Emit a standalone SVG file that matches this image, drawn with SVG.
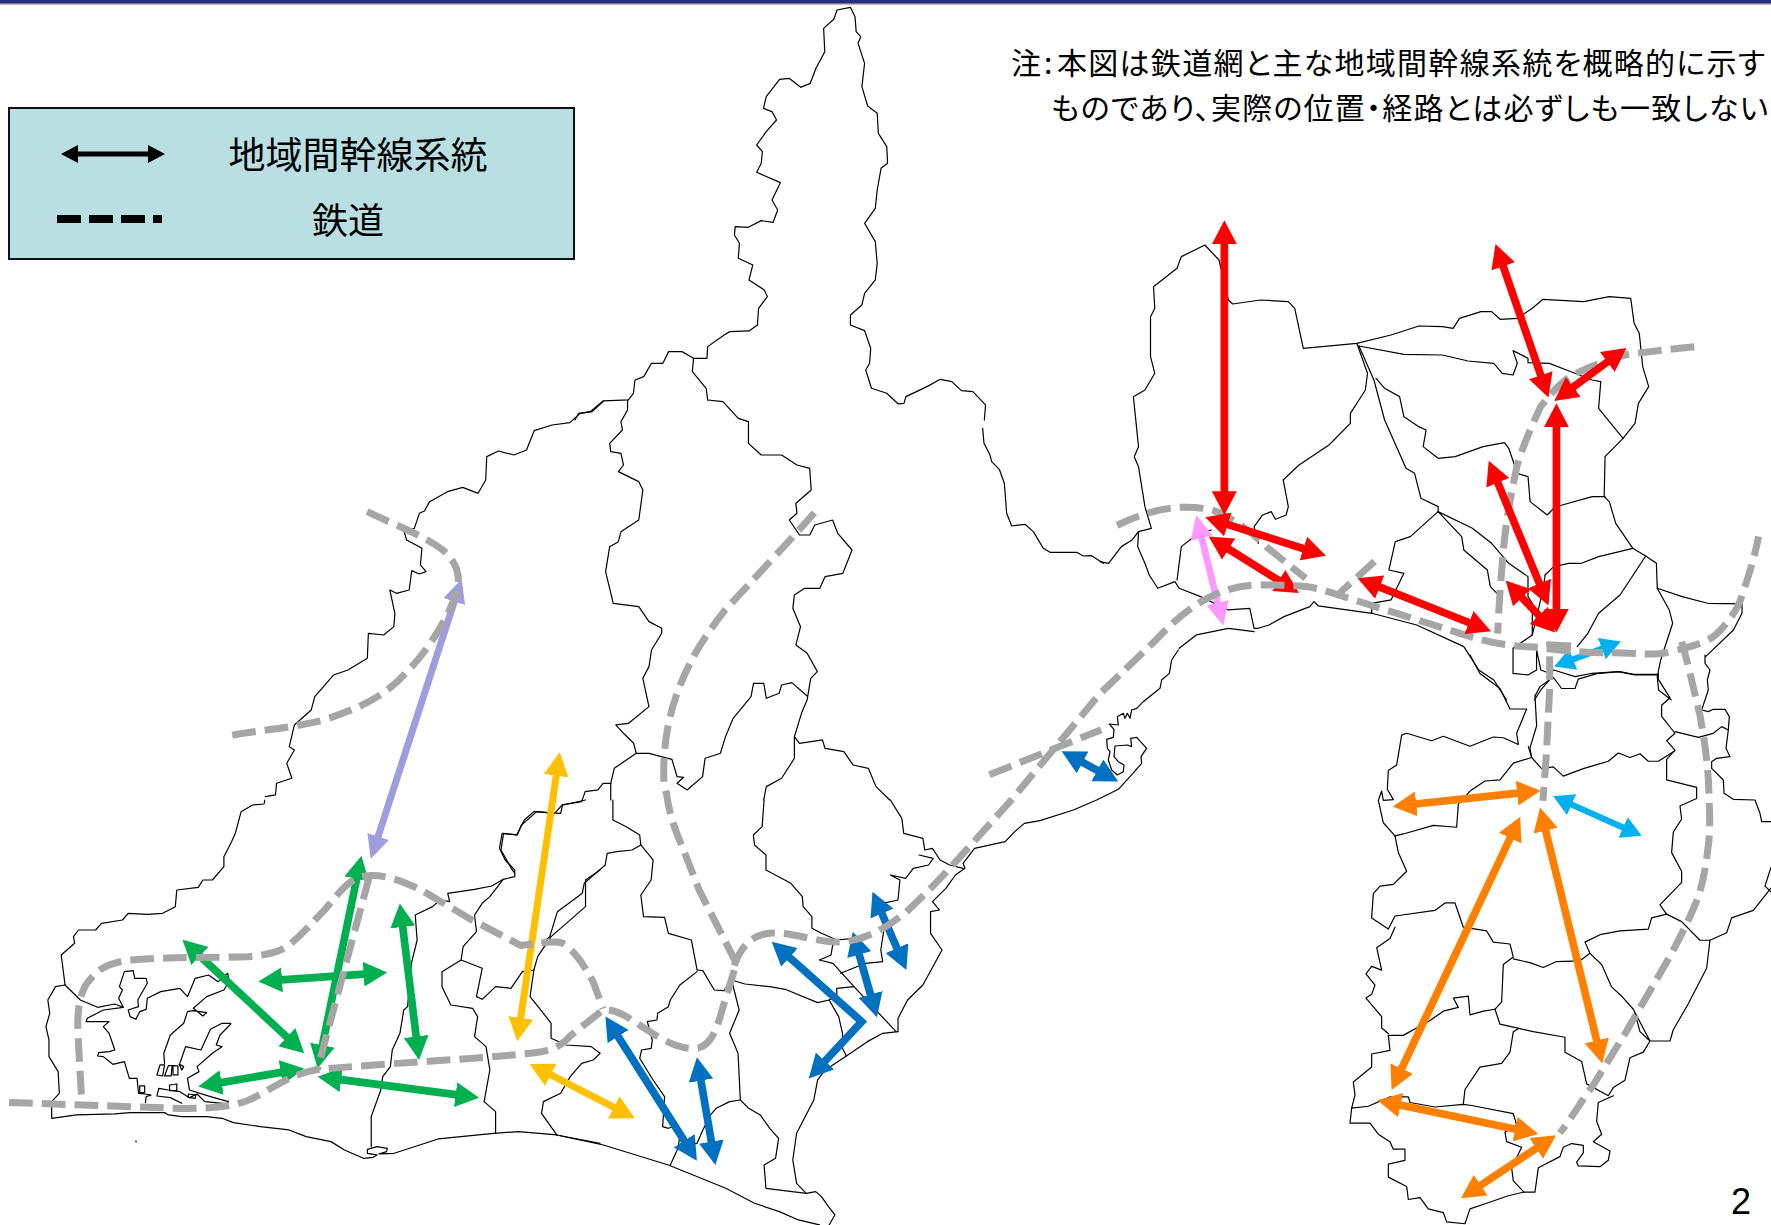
<svg xmlns="http://www.w3.org/2000/svg" width="1771" height="1225" viewBox="0 0 1771 1225">
<style>
.b{fill:none;stroke:#000;stroke-width:1.2;vector-effect:non-scaling-stroke;stroke-linejoin:round;stroke-linecap:round}
.r{fill:none;stroke:#A6A6A6;stroke-width:6.2;stroke-dasharray:21 8}
.a{fill:none;stroke-width:6.8;stroke-linejoin:miter}
.t{font-family:"Noto Sans CJK JP","Liberation Sans",sans-serif;fill:#000}
.n{font-feature-settings:"palt"}
</style>
<defs>
<marker id="mR" viewBox="0 -11 21 22" markerWidth="21" markerHeight="22" refX="7" refY="0" markerUnits="userSpaceOnUse" orient="auto-start-reverse"><path d="M0-11 21 0 0 11Z" fill="#F00"/></marker>
<marker id="mG" viewBox="0 -11 21 22" markerWidth="21" markerHeight="22" refX="7" refY="0" markerUnits="userSpaceOnUse" orient="auto-start-reverse"><path d="M0-11 21 0 0 11Z" fill="#00B050"/></marker>
<marker id="mB" viewBox="0 -11 21 22" markerWidth="21" markerHeight="22" refX="7" refY="0" markerUnits="userSpaceOnUse" orient="auto-start-reverse"><path d="M0-11 21 0 0 11Z" fill="#0070C0"/></marker>
<marker id="mY" viewBox="0 -11 21 22" markerWidth="21" markerHeight="22" refX="7" refY="0" markerUnits="userSpaceOnUse" orient="auto-start-reverse"><path d="M0-11 21 0 0 11Z" fill="#FFC000"/></marker>
<marker id="mO" viewBox="0 -11 21 22" markerWidth="21" markerHeight="22" refX="7" refY="0" markerUnits="userSpaceOnUse" orient="auto-start-reverse"><path d="M0-11 21 0 0 11Z" fill="#FF8000"/></marker>
<marker id="mC" viewBox="0 -10 18 20" markerWidth="18" markerHeight="20" refX="4" refY="0" markerUnits="userSpaceOnUse" orient="auto-start-reverse"><path d="M0-10 18 0 0 10Z" fill="#00B0F0"/></marker>
<marker id="mP" viewBox="0 -10 21 20" markerWidth="21" markerHeight="20" refX="7" refY="0" markerUnits="userSpaceOnUse" orient="auto-start-reverse"><path d="M0-10 21 0 0 10Z" fill="#9E9EDE"/></marker>
<marker id="mK" viewBox="0 -10 21 20" markerWidth="21" markerHeight="20" refX="7" refY="0" markerUnits="userSpaceOnUse" orient="auto-start-reverse"><path d="M0-10 21 0 0 10Z" fill="#FF99FF"/></marker>
<marker id="mL" viewBox="0 -9 17 18" markerWidth="17" markerHeight="18" refX="5" refY="0" markerUnits="userSpaceOnUse" orient="auto-start-reverse"><path d="M0-9 17 0 0 9Z" fill="#000"/></marker>
</defs>
<rect width="1771" height="1225" fill="#fff"/>
<g id="topband"><rect width="1771" height="3.4" fill="#2A2A80"/><rect y="3.4" width="1771" height="1" fill="#555"/></g>
<g id="map">
<g transform="translate(550,0) scale(.3827,.3333)">
<path class="b" d="M375,1075 410,1075 412,1040 455,1005 470,995 520,993 542,975 545,925 568,890 560,870 520,840 530,795 492,775 495,730 482,705 484,680 518,682 552,662 583,667 595,630 580,600 602,548 540,517 552,490 555,455 540,435 565,395 592,360 580,335 558,325 565,290 600,238 625,235 655,262 680,250 695,205 718,155 715,85 742,57 750,30 785,22 797,50 800,95 812,110 805,130 822,190 815,260 830,318 855,340 858,400 880,440 882,490 865,505 855,570 850,625 822,670 850,725 855,790 850,840 822,880 815,915 785,945 785,975 822,992 838,1045 835,1090 825,1110 840,1165 880,1180 910,1212 925,1210 930,1190 985,1160 1020,1138 1050,1145 1075,1172 1105,1175 1138,1215 1135,1260"/>
<path class="b" d="M375,1075 345,1055 310,1055 295,1090 265,1090 245,1130 222,1140 218,1180 205,1200 140,1203 110,1235 75,1240 65,1260"/>
<path class="b" d="M375,1075 372,1115 408,1165 412,1200"/>
</g>
<g transform="translate(960,380) scale(.3333)">
<path class="b" d="M68,145 72,190 90,225 95,245 118,268 133,310 140,400 155,438 195,433 220,455 250,505 270,517 350,517 370,528 395,527 430,550"/>
</g>
<g transform="translate(200,400) scale(.5102,.3333)">
<path class="b" d="M790,3 765,35 745,40 725,68 690,75 655,92 640,150 615,165 585,153 562,170 560,240 545,280 515,262 485,275 450,305 440,333 430,340 420,385 400,395 405,420 435,445 432,495 443,515 430,522 415,512 410,570 385,580 372,570 382,640 380,680 360,705 330,700 328,775 290,810 262,825 225,890 218,930 185,975 175,1040 185,1050 170,1090 180,1135 150,1150 148,1185 128,1190"/>
<path class="b" d="M838,0 838,30 825,65 828,90 803,130 805,155 825,160 830,195 820,215 860,245 868,270 860,360 825,395 820,425 803,440 795,515 810,610 860,620 880,665 905,685 905,700 885,750 880,800 868,835 880,920 840,970 815,975 830,1000 850,1030 855,1060 880,1060 925,1078 935,1130 948,1132 935,1150 955,1170 985,1130 990,1075 1020,1060 1030,1010 1045,955 1080,890 1085,850 1105,850 1110,895 1135,880 1140,855 1160,848 1190,888"/>
<path class="b" d="M855,1060 812,1105 805,1150 790,1150 780,1170 755,1175 748,1205 710,1215 695,1240 660,1235 630,1275 622,1305 595,1300 590,1350 610,1405 617,1420"/>
<path class="b" d="M805,1150 805,1200"/>
<path class="b" d="M995,0 1025,5 1055,55 1075,65 1075,130 1100,165 1140,165 1170,195 1195,205 1198,270 1168,310 1170,340 1155,360 1175,405 1195,405 1205,375 1240,360 1250,400 1278,450 1260,520 1225,530 1215,565 1185,565 1165,585 1162,625 1177,680 1168,735 1190,760 1210,815 1197,835 1190,900 1180,935 1165,1010 1175,1030 1220,1020 1225,1045 1262,1055 1280,1095 1310,1105 1325,1160 1352,1200"/>
<path class="b" d="M1165,1010 1165,1075 1140,1135 1110,1160 1105,1200"/>
</g>
<g transform="translate(0,800) scale(.3827,.3333)">
<path class="b" d="M692,0 690,12 660,15 630,35 615,100 605,125 585,170 585,200 555,240 530,240 518,262 462,270 458,320 425,340 385,343 335,340 320,360 265,370 250,390 205,390 192,410 195,430 160,465 170,555 145,560 125,600 130,640 120,680 128,720 128,770 152,815 155,880 135,905 135,955 200,945 300,942 340,938 430,938 440,945 475,950 540,950 580,955 610,968 680,980 755,990 800,1010 865,1025 900,1050 950,1075 975,1072 985,1065 960,1060 960,1048 985,1040 1012,1045 1010,1055 990,1062 1030,1060 1145,1017 1290,1000 1355,995 1455,1005 1568,1030"/>
<path class="b" d="M170,555 210,600 255,622 300,612 322,622 310,595 320,570 312,560 325,515 348,512 352,535 382,535 385,550 360,600 362,620 335,630 340,650 355,658 365,635 382,628 385,595 420,575 470,565 490,590 510,535 545,525 570,545 595,520 598,545 585,570 540,590 505,625 530,648 540,638 505,632 490,635 480,670 445,705 428,760 430,790"/>
<path class="b" d="M322,622 270,630 228,655 225,665 270,665 285,665 270,680 285,700 300,750 285,755 258,758 255,768 270,770 295,793 325,785 338,835 358,835 362,880 378,882 395,885 382,890 380,908"/>
<path class="b" d="M603,670 580,670 550,688 525,750 485,740 470,790 M603,672 575,705 565,735 580,740 555,760 515,800 520,815 490,835 495,870 550,890 597,905 595,912 535,905 515,882 495,893 470,875 440,870 415,865 410,888 445,893 475,910"/>
<path class="b" d="M410,825 418,795 430,795 425,828ZM430,828 440,797 450,797 447,828ZM452,825 452,797 465,798 465,825ZM468,792 480,800 475,810ZM365,858 378,858 378,878 365,878ZM443,855 462,852 462,872 443,872ZM492,882 512,885 510,895 492,892Z"/>
<path class="b" d="M355,1023 356,1026"/>
<path class="b" d="M1150,300 1130,320 1085,345 1090,420 1075,490 1065,620 1055,630 1045,700 1025,750 1020,800 1000,830 995,870 970,950 970,1040"/>
<path class="b" d="M1150,300 1175,305 1170,280 1240,268 1285,258 1315,238 1345,230 1345,210 1320,180 1305,145 1312,100 1350,105 1370,60 1395,35 1465,40 1470,15 1530,0"/>
<path class="b" d="M1315,238 1280,290 1260,310 1240,345 1245,395 1210,440 1205,480 1155,515 1155,560 1178,615 1235,625 1248,650 1240,710 1270,740 1280,810 1265,905 1295,935 1295,1000"/>
<path class="b" d="M1205,480 1260,505 1245,590 1260,598 1295,560 1335,565 1365,515 1395,510 1405,470 1440,410 1530,320 1530,240 1568,210"/>
<path class="b" d="M1395,510 1385,590 1420,640 1440,670 1440,715 1480,735 1545,740 1568,760 1550,780 1520,790 1490,830 1465,880 1420,905 1415,940 1455,1005"/>
</g>
<g transform="translate(500,800) scale(.3827,.3333)">
<path class="b" d="M295,0 295,60 330,80 365,105 368,135 400,180 395,240 368,285 375,350 430,352 440,400 500,420 515,510"/>
<path class="b" d="M368,135 345,150 305,155 280,160 275,195 240,230 220,250 215,280 150,335 130,410 110,430"/>
<path class="b" d="M515,510 530,512 560,570 585,572 605,540 625,630 600,700 622,760 628,900 600,905 565,925 550,945 530,990 515,1030 465,1040"/>
<path class="b" d="M515,515 470,555 445,600 440,620 412,640 410,660 385,665 398,720 395,745 370,750 365,775 400,840 430,890 425,980 440,985 465,975 470,1010 465,1045 445,1095"/>
<path class="b" d="M628,900 650,925 680,945 705,985 728,1015 720,1075 690,1095 695,1165 800,1180 825,1175 840,1190 855,1215 875,1245 860,1275"/>
<path class="b" d="M148,1005 270,1035 440,1095 590,1165 665,1210 730,1235 780,1260 835,1275"/>
<path class="b" d="M605,540 640,552 705,560 745,568 830,608 860,600 885,650 895,700 895,745 905,768"/>
<path class="b" d="M860,600 880,590 880,565 925,560 M835,480 870,490 925,560 1035,695"/>
<path class="b" d="M835,480 865,465 870,430 880,420"/>
<path class="b" d="M1040,695 1000,700 960,725 905,768 850,810 830,840 820,900 775,1000 765,1080 775,1150 800,1180"/>
<path class="b" d="M1040,695 1040,655 1065,600 1105,555 1155,450 1125,400 1125,335 1148,330 1130,305 1165,265 1190,225 1215,205 1210,190 1240,145 1320,125 1345,95 1370,70 1411,62"/>
<path class="b" d="M690,0 685,80 662,105 665,135 695,165 695,210 760,250 790,290 792,320 815,350 815,385 840,400 880,420 925,415"/>
<path class="b" d="M1020,0 1050,55 1055,100 1105,115 1110,150 1130,145 1150,180 1175,195 1210,205"/>
<path class="b" d="M1095,165 1132,175 1120,195 1080,205 1060,235 1020,225 1045,240 1040,300 1000,310 1005,375 995,450 1000,485 955,490 890,520"/>
</g>
<g transform="translate(1040,650) scale(.3333)">
<path class="b" d="M415,0 395,30 388,70 365,90 360,115 310,155 290,175 275,180 270,205 262,190 255,205 250,190 232,200 235,225 208,222 222,238 220,262 200,268 202,295 210,305 205,330 215,360 232,375 250,365 252,345 235,335 222,320 225,288 262,285 275,290 272,265 290,262 320,295 303,320 305,340 270,380 235,418 170,450 100,480 0,512"/>
</g>
<g transform="translate(1100,200) scale(.428,.3333)">
<path class="b" d="M0,1085 20,1090 50,1040 75,1020 90,995 120,985 105,920 90,800 80,770 90,740 78,590 105,570 128,520 118,470 118,350 128,325 125,260 180,205 190,170 245,135 278,180 300,300 310,312 375,300 440,305 455,325 475,445 600,430 680,405 745,378 800,380 825,385 840,355 890,335 915,335 935,358 975,355 1010,325 1035,298 1130,305 1190,290 1240,295 1248,370 1260,400 1268,500 1282,560 1258,610 1250,670 1222,715 1180,770 1178,890 1190,905 1205,970 1245,1045 1275,1068 1300,1090 1302,1165 1360,1190 1420,1210 1500,1212 1500,1240 1480,1290 1415,1370"/>
<path class="b" d="M1222,715 1165,625 1170,545 1150,540 1090,510 1050,490 1000,488 1000,475 965,452 975,490 965,525 940,520 920,490 860,483 800,465 710,463 605,438"/>
<path class="b" d="M600,430 625,520 620,570 585,640 585,670 535,735 465,795 428,840 440,920 435,945 410,958 400,935 380,945 360,980 370,1030"/>
<path class="b" d="M605,438 640,540 665,660 715,805 735,820 750,895 790,920 790,935"/>
<path class="b" d="M645,535 665,565 700,590 710,650 745,680 762,690 755,740 790,775 830,770 895,740 945,728 955,745 975,820 1000,830 1005,905 1045,945 1060,925 1080,915 1150,890 1180,890"/>
<path class="b" d="M790,935 725,1010 690,1025 675,1110 710,1120 680,1200 635,1210 635,1240"/>
<path class="b" d="M790,935 845,1010 850,1050 905,1110 912,1160 935,1190"/>
<path class="b" d="M790,935 870,985 915,1030 955,1090 1000,1130 1000,1190 1010,1210 1010,1305"/>
<path class="b" d="M90,995 88,1040 105,1090 115,1125 135,1165 175,1145 185,1165 235,1190 300,1230 350,1225 360,1285 370,1285 395,1275 430,1250 490,1220 500,1205 510,1218 635,1240 740,1275 850,1340 885,1410 920,1440 950,1500"/>
<path class="b" d="M180,1140 190,1040 230,1000 260,990"/>
<path class="b" d="M360,1295 300,1285 225,1305 185,1345"/>
<path class="b" d="M1040,1125 1060,1100 1095,1090 1125,1090 1165,1070 1245,1045"/>
<path class="b" d="M1040,1125 1035,1170 1010,1305 965,1345 965,1420 1000,1425 1020,1410 1020,1350 1030,1410 1050,1420 1060,1410 1110,1430 1150,1420 1210,1415 1250,1425 1302,1425"/>
<path class="b" d="M1275,1068 1215,1185 1165,1240 1140,1300 1115,1340"/>
<path class="b" d="M1302,1165 1330,1230 1338,1270 1310,1380 1302,1430 1305,1470 1335,1500"/>
<path class="b" d="M1050,1440 1030,1470 1015,1500"/>
</g>
<g transform="translate(1600,620) scale(.3333)">
<path class="b" d="M315,105 315,130 330,150 322,180 325,210 305,270 325,275 340,268 375,268 388,290 385,330 378,385 390,410 350,415 335,425 335,445 370,480 372,520 400,538 465,540 480,580 485,605 513,605"/>
<path class="b" d="M225,335 295,352 340,340 365,320 385,330"/>
</g>
<g transform="translate(1300,640) scale(.3333,.373)">
<path class="b" d="M510,40 540,90 600,130 630,185 680,185 650,250 655,280 610,262 580,260 510,285 430,258 395,270 320,250 305,255 290,335 265,350 262,400 280,428 250,430 245,405 235,430 250,490 285,525 310,520 400,497 470,502 475,440 510,405 555,378 600,375 640,330 695,315 685,285"/>
<path class="b" d="M285,525 295,570 320,620 280,655 240,660 220,680 215,745 265,775 285,740 405,725 435,705 465,705 490,770 560,780 580,810 630,815 640,850 610,870 605,970 585,990 600,1030 650,1040 660,1042 700,1050 795,1065 795,1105 845,1130 860,1190 925,1222 940,1200 975,1180 990,1120 1030,1105 1050,1075 1000,990 965,955 935,930 905,870 870,840 855,810 900,790 960,780 1045,775 1055,745 1100,735 1080,710 1145,650 1145,620 1115,570 1120,515 1145,480 1140,445 1190,425 1190,395 1100,375 1100,320 1125,295 1100,270 1125,250 1085,205 1085,175 1110,155 1075,105 1075,90"/>
<path class="b" d="M1100,735 1145,755 1200,805 1230,805 1280,785 1295,745 1360,725 1413,665"/>
<path class="b" d="M1230,805 1220,880 1165,975 1120,1045 1110,1075 1080,1075 1050,1075 1020,1050 1005,1000"/>
<path class="b" d="M640,855 690,865 730,878 770,862 840,860 870,840"/>
<path class="b" d="M285,770 270,800 230,825 245,885 215,875 198,895 225,925 215,950 198,960 245,1010 245,1040 265,1055"/>
<path class="b" d="M265,1060 310,1060 390,1020 430,995 475,985 460,960 505,955 510,1005 550,995 585,990"/>
<path class="b" d="M265,1060 270,1100 215,1110 215,1145 160,1185 165,1220 155,1255 205,1250 270,1225 325,1225 330,1240 405,1252 490,1245 515,1248 640,1270 650,1300 615,1320 620,1345 665,1360 635,1415 640,1450 672,1480"/>
<path class="b" d="M490,1245 495,1205 540,1145 605,1135 630,1105 640,1050 655,1042"/>
<path class="b" d="M155,1255 150,1295 210,1295 235,1325 270,1345 280,1365 315,1365 315,1395 265,1405 265,1440 320,1465 325,1500 360,1495 385,1525 430,1535 440,1560 495,1565 510,1525 560,1510 625,1490 672,1480 705,1480 715,1415 780,1385 790,1360 815,1350 850,1355 850,1375 830,1400 835,1410 900,1412 925,1395 930,1370 880,1345 905,1325 890,1290 895,1240 940,1222"/>
<path class="b" d="M705,150 720,125 760,100 785,130 825,130 835,105 890,90 960,85 1000,92 1075,92"/>
<path class="b" d="M705,150 710,230 690,290 695,315 725,345 760,340 790,365 850,345 925,325 955,303 990,315 1020,305 1045,325 1075,325 1125,297"/>
<path class="b" d="M1413,610 1395,660 1413,675"/>
</g>
</g>
<g id="connectors" transform="scale(1.1295)">
<g id="arrows-under">
<g stroke="#00B050" class="a" marker-start="url(#mG)" marker-end="url(#mG)">
<path d="M171.8 841.6 259.1 923"/><path d="M242.7 868 328.9 862"/><path d="M317.2 771.3 284 932.2"/><path d="M355.7 813.7 369.3 924.6"/><path d="M189.3 959.6 255.5 948.3"/><path d="M295.1 955 410.3 970"/>
</g>
<g stroke="#0070C0" class="a" marker-start="url(#mB)" marker-end="url(#mB)">
<path d="M543.5 911.8 609.5 1015.8"/><path d="M619.4 949.8 631 1017.6"/><path d="M693.7 843 762.9 904.5 725.6 944.5"/><path d="M758.8 838.5 772.6 887.2"/><path d="M778 802.4 796.9 845.9"/><path d="M952.3 671.7 977.7 685.3"/>
</g>
<g stroke="#FFC000" class="a" style="stroke-width:6.2" marker-start="url(#mY)" marker-end="url(#mY)">
<path d="M493.5 679.9 460 908.1"/><path d="M481.4 948.4 549.6 983.6"/>
</g>
<g stroke="#9E9EDE" class="a" style="stroke-width:6.2" marker-start="url(#mP)" marker-end="url(#mP)"><path d="M404.4 525.9 332.6 747.2"/></g>
<g stroke="#FF99FF" class="a" style="stroke-width:6" marker-start="url(#mK)" marker-end="url(#mK)"><path d="M1062.3 469.6 1079.7 540.4"/></g>
<g stroke="#00B0F0" class="a" style="stroke-width:5.5" marker-start="url(#mC)" marker-end="url(#mC)">
<path d="M1389.1 585.1 1421.9 572.9"/><path d="M1387.8 710.7 1440.7 734.3"/>
</g>
<g stroke="#FF8000" class="a" marker-start="url(#mO)" marker-end="url(#mO)">
<path d="M1246.9 712.5 1350.1 701.5"/><path d="M1340 735.7 1238 952.3"/><path d="M1366.8 728.6 1415.3 928"/><path d="M1233.2 976.9 1348.3 1001.1"/><path d="M1366 1012.8 1305.1 1053.2"/>
</g>
<path stroke="#F00" class="a" marker-start="url(#mR)" marker-end="url(#mR)" d="M1081.9 482.4 1138.1 517.6"/>
</g>
<g id="railways">
<path class="r" d="M325 453C350 465 375 474 392 487 403 496 408 508 405 522 398 545 380 575 360 595 340 618 315 628 285 638 255 645 225 647 199 652"/>
<path class="r" d="M8 976 150 981C175 982 205 981 220 974 240 965 258 950 281 947 330 942 420 938 474 932 490 930 498 925 505 917L534 894C550 893 565 908 578 915 590 923 605 930 618 928 630 925 635 910 639 895L652 853"/>
<path class="r" d="M650 855C655 840 665 826 685 826 705 826 725 835 745 834 770 832 790 818 805 805 825 786 840 770 856 752L893 711 974 614 1023 567C1045 543 1075 518 1114 518 1140 518 1155 518 1170 522L1303 564C1330 572 1345 572 1360 573 1390 577 1410 578 1429 578 1450 578 1465 581 1478 577 1500 572 1515 568 1523 558 1535 545 1540 535 1542 528 1548 510 1553 495 1557 475"/>
<path class="r" d="M72 969 69 915C68 890 72 875 80 867 88 856 100 852 115 850 150 847 190 848 220 847 240 845 250 842 258 835 270 825 278 815 288 805 300 790 310 778 320 776 340 772 360 782 373 788L417 814 461 837C475 836 490 832 498 835 510 842 520 860 525 869L534 893"/>
<path class="r" d="M327 776 281 947"/>
<path class="r" d="M721 454C700 478 665 515 642 540 625 562 617 575 611 587 597 615 590 640 588 670 587 690 588 700 590 702 593 725 600 740 605 752L619 788 652 853"/>
<path class="r" d="M989 465C1010 455 1030 449 1050 449 1060 449 1070 450 1080 454 1095 462 1110 472 1121 484L1156 512"/>
<path class="r" d="M1217 497 1186 525"/>
<path class="r" d="M1500 307C1470 310 1455 312 1440 314 1420 320 1405 325 1391 333 1380 340 1372 350 1364 360 1355 380 1348 395 1343 413 1337 440 1333 465 1331 487 1329 510 1327 535 1326 561"/>
<path class="r" d="M1391 572 1372 571 1372 610 1369 669 1366 709"/>
<path class="r" d="M1489 568C1495 590 1500 612 1505 633 1510 660 1513 685 1513 705 1514 725 1514 740 1512 752 1510 770 1507 785 1502 798 1495 815 1485 835 1476 851L1440 913 1411 960C1400 975 1390 992 1381 1003"/>
<path class="r" d="M876 686 975 646"/>
</g>
<g id="arrows-over" stroke="#F00" class="a" marker-start="url(#mR)" marker-end="url(#mR)">
<path d="M1084 209 1084 442"/><path d="M1328.6 229.2 1366.4 338.8"/><path d="M1428.7 316.3 1387.3 346.7"/><path d="M1378 371 1378 546"/><path d="M1323.4 420.9 1365.6 523.1"/><path d="M1342.7 524.1 1367.3 549.9"/><path d="M1215 517.2 1307 553.8"/><path d="M1080.4 462.2 1160.6 487.8"/>
</g>
</g>
<g id="legend">
<rect x="9" y="108" width="565" height="151" fill="#B9DFE2" stroke="#111" stroke-width="2"/>
<path d="M73 154 153 154" stroke="#000" stroke-width="5" fill="none" marker-start="url(#mL)" marker-end="url(#mL)"/>
<path d="M57 219 162 219" stroke="#000" stroke-width="8" stroke-dasharray="24 8" fill="none"/>
<text class="t" x="358" y="169" font-size="37" text-anchor="middle">地域間幹線系統</text>
<text class="t" x="348" y="234" font-size="36" text-anchor="middle">鉄道</text>
</g>
<g id="note">
<text class="t n" y="74" font-size="30"><tspan x="1011">注</tspan><tspan x="1044">:</tspan><tspan x="1057" textLength="708">本図は鉄道網と主な地域間幹線系統を概略的に示す</tspan></text>
<text class="t n" x="1051" y="119" font-size="30" textLength="717">ものであり、実際の位置・経路とは必ずしも一致しない</text>
</g>
<text id="page" x="1731" y="1214" font-size="36" font-family="'Liberation Sans',sans-serif">2</text>
</svg>
